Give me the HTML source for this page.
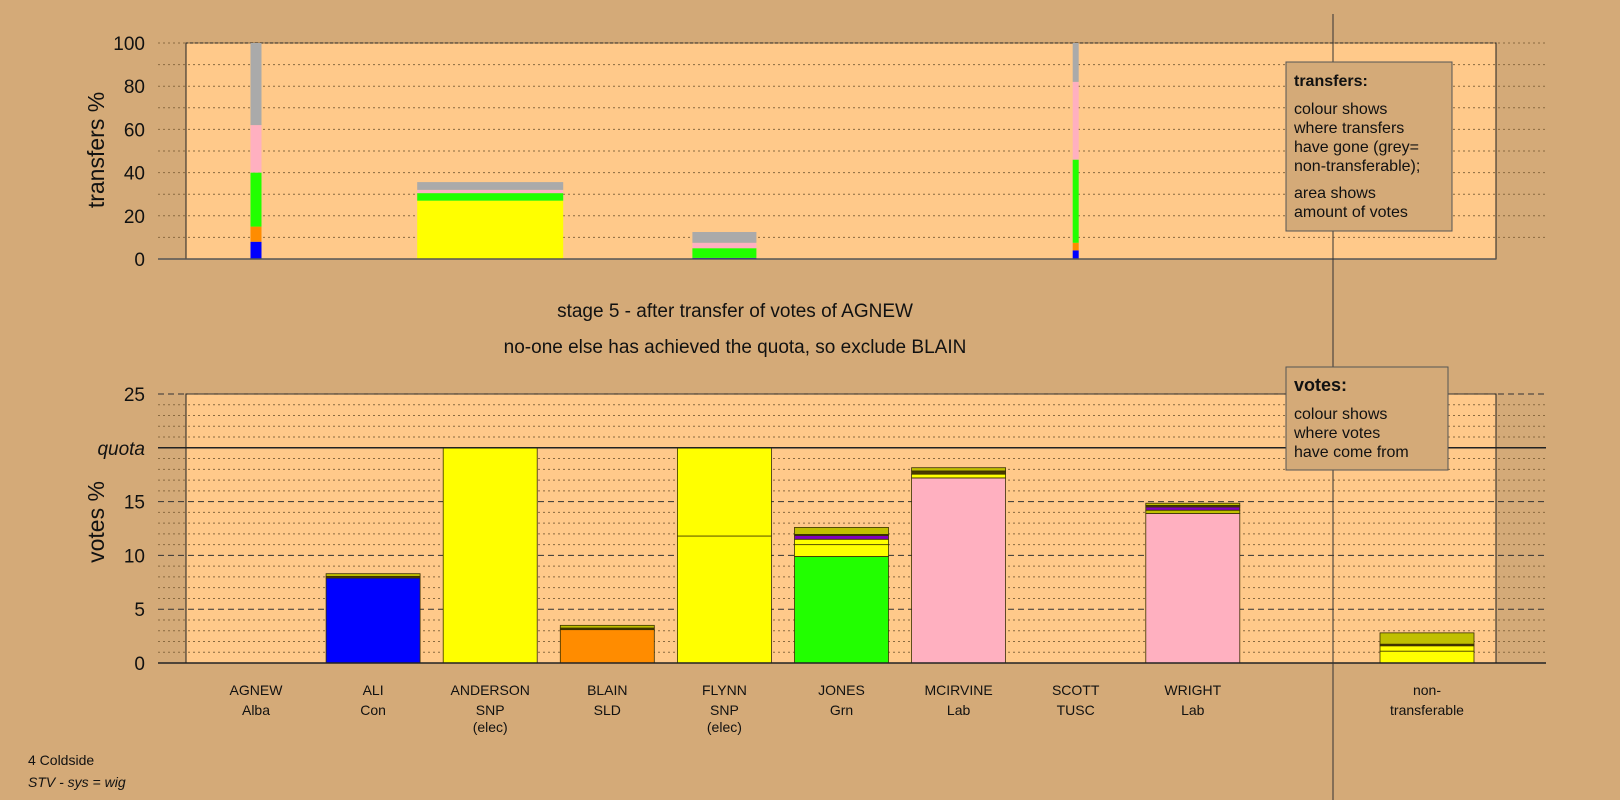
<!DOCTYPE html>
<html><head><meta charset="utf-8">
<style>
body{margin:0;background:#d4aa78;}
svg{display:block;font-family:"Liberation Sans",Arial,sans-serif;}
</style></head>
<body>
<svg id="c" width="1620" height="800" viewBox="0 0 1620 800" xmlns="http://www.w3.org/2000/svg">
<rect x="0" y="0" width="1620" height="800" fill="#d4aa78"/>
<g id="topg"></g>
<g id="botg"></g>
<line x1="1333" y1="14" x2="1333" y2="800" stroke="#333" stroke-width="1"/>
<text transform="translate(98,150) rotate(-90)" text-anchor="middle" dominant-baseline="middle" font-size="23" fill="#111">transfers %</text>
<text transform="translate(98,522) rotate(-90)" text-anchor="middle" dominant-baseline="middle" font-size="23" fill="#111">votes %</text>
<text x="735" y="317" text-anchor="middle" font-size="19" fill="#111">stage 5 - after transfer of votes of AGNEW</text>
<text x="735" y="353" text-anchor="middle" font-size="19" fill="#111">no-one else has achieved the quota, so exclude BLAIN</text>
<g>
<rect x="1286" y="62" width="166" height="169" fill="#d4aa78" stroke="#555" stroke-width="1"/>
<text x="1294" y="86" font-size="16" font-weight="bold" fill="#111">transfers:</text>
<text font-size="16" fill="#111"><tspan x="1294" y="114">colour shows</tspan><tspan x="1294" y="133">where transfers</tspan><tspan x="1294" y="152">have gone (grey=</tspan><tspan x="1294" y="171">non-transferable);</tspan><tspan x="1294" y="198">area shows</tspan><tspan x="1294" y="217">amount of votes</tspan></text>
</g>
<g>
<rect x="1286" y="367" width="162" height="103" fill="#d4aa78" stroke="#555" stroke-width="1"/>
<text x="1294" y="391" font-size="18" font-weight="bold" fill="#111">votes:</text>
<text font-size="16" fill="#111"><tspan x="1294" y="419">colour shows</tspan><tspan x="1294" y="438">where votes</tspan><tspan x="1294" y="457">have come from</tspan></text>
</g>
<text x="28" y="765" font-size="14" fill="#111">4 Coldside</text>
<text x="28" y="787" font-size="14" font-style="italic" fill="#111">STV - sys = wig</text>
</svg>
<script>
const candidates=["AGNEW","ALI","ANDERSON","BLAIN","FLYNN","JONES","MCIRVINE","SCOTT","WRIGHT","non-"];
const candidateSub=[["Alba"],["Con"],["SNP","(elec)"],["SLD"],["SNP","(elec)"],["Grn"],["Lab"],["TUSC"],["Lab"],["transferable"]];
const slotIndex=[0,1,2,3,4,5,6,7,8,10];
const topTicks=[0,20,40,60,80,100];
const botTicks=[0,5,10,15,20,25];
const botTickLabels=["0","5","10","15","quota","25"];
const quota=20;
const transferIdx=[0,2,4,7];
const transferWidth=[11,146,64,6];
const transferSegs=[
 [["#0000ff",8],["#ff8c00",7],["#22ff00",25],["#ffb0c0",22],["#aaaaaa",38]],
 [["#ffff00",27],["#22ff00",3.5],["#ffb0c0",1.5],["#aaaaaa",3.6]],
 [["#0000ff",0.5],["#22ff00",4.5],["#ffb0c0",2.5],["#aaaaaa",5]],
 [["#0000ff",4],["#ff8c00",3.5],["#22ff00",38.5],["#ffb0c0",36],["#aaaaaa",18]]
];
const voteSegs=[
 [],
 [["#0000ff",7.9],["#4a3a00",0.15],["#c0c000",0.25]],
 [["#ffff00",20]],
 [["#ff8c00",3.1],["#4a3a00",0.15],["#c0c000",0.25]],
 [["#ffff00",11.8],["#ffff00",8.2]],
 [["#22ff00",9.9],["#ffff00",1.1],["#ffff00",0.5],["#8000c0",0.35],["#4a3a00",0.1],["#c0c000",0.65]],
 [["#ffb0c0",17.2],["#ffff00",0.35],["#4a3a00",0.3],["#c0c000",0.3]],
 [],
 [["#ffb0c0",13.9],["#c0c000",0.3],["#8000c0",0.3],["#4a3a00",0.15],["#c0c000",0.2]],
 [["#ffff00",1.1],["#ffff00",0.5],["#4a3a00",0.15],["#c0c000",1.05]]
];
const NS="http://www.w3.org/2000/svg";
function mk(p,t,a){const e=document.createElementNS(NS,t);for(const k in a)e.setAttribute(k,a[k]);p.appendChild(e);return e;}
const plotL=186,plotR=1496,gridL=158,gridR=1546;
function slotX(i){return 256+117.1*slotIndex[i];}
function yTop(v){return 259-(259-43)*v/100;}
function yBot(v){return 663-(663-394)*v/25;}
const topG=document.getElementById('topg'),botG=document.getElementById('botg');
let r=mk(topG,'rect',{x:plotL,y:yTop(100),width:plotR-plotL,height:yTop(0)-yTop(100),fill:'#ffc98a',stroke:'#222','stroke-width':1});


for(let v=10;v<=100;v+=10){
 const l=mk(topG,'line',{x1:gridL,x2:gridR,y1:yTop(v),y2:yTop(v),stroke:'#8a6a40','stroke-width':1,'stroke-dasharray':'2,3'});
 
 
}
topTicks.forEach(v=>{
 const t=mk(topG,'text',{x:145,y:yTop(v)+7,'text-anchor':'end','font-size':19,fill:'#111'});
 t.textContent=v;
 
 
});
transferIdx.forEach((ci,k)=>{
 const cx=slotX(ci),w=transferWidth[k];let acc=0;
 transferSegs[k].forEach(s=>{
  const b=mk(topG,'rect',{x:cx-w/2,y:yTop(acc+s[1]),width:w,height:yTop(acc)-yTop(acc+s[1]),fill:s[0]});
  
  
  acc+=s[1];
 });
});
let bl=mk(topG,'line',{x1:gridL,x2:plotR,y1:yTop(0),y2:yTop(0),stroke:'#555','stroke-width':1.5});


r=mk(botG,'rect',{x:plotL,y:yBot(25),width:plotR-plotL,height:yBot(0)-yBot(25),fill:'#ffc98a',stroke:'#222','stroke-width':1});


for(let v=1;v<=25;v++){
 if(v===quota)continue;
 const major=v%5===0;
 const l=mk(botG,'line',{x1:gridL,x2:gridR,y1:yBot(v),y2:yBot(v),stroke:major?'#333':'#8a6a40','stroke-width':1,'stroke-dasharray':major?'6,4':'2,3'});
 
 
}
botTicks.forEach((v,i)=>{
 const q=botTickLabels[i]==='quota';
 const t=mk(botG,'text',{x:145,y:yBot(v)+7,'text-anchor':'end','font-size':19,fill:'#111','font-style':q?'italic':'normal'});
 t.textContent=botTickLabels[i];
 
 
});
voteSegs.forEach((segs,ci)=>{
 const cx=slotX(ci),w=94;let acc=0;
 segs.forEach(s=>{
  const b=mk(botG,'rect',{x:cx-w/2,y:yBot(acc+s[1]),width:w,height:yBot(acc)-yBot(acc+s[1]),fill:s[0],stroke:'#3a3000','stroke-width':0.8});
  
  
  acc+=s[1];
 });
});
let ql=mk(botG,'line',{x1:gridL,x2:gridR,y1:yBot(quota),y2:yBot(quota),stroke:'#222','stroke-width':1.5});


bl=mk(botG,'line',{x1:gridL,x2:gridR,y1:yBot(0),y2:yBot(0),stroke:'#222','stroke-width':1.5});


candidates.forEach((n,ci)=>{
 const cx=slotX(ci);
 const t=mk(botG,'text',{x:cx,y:695,'text-anchor':'middle','font-size':14,fill:'#111'});
 t.textContent=n;
 
 
 candidateSub[ci].forEach((s,j)=>{
  const u=mk(botG,'text',{x:cx,y:715+j*17,'text-anchor':'middle','font-size':14,fill:'#111'});
  u.textContent=s;
  
  
 });
});
</script>
</body></html>
